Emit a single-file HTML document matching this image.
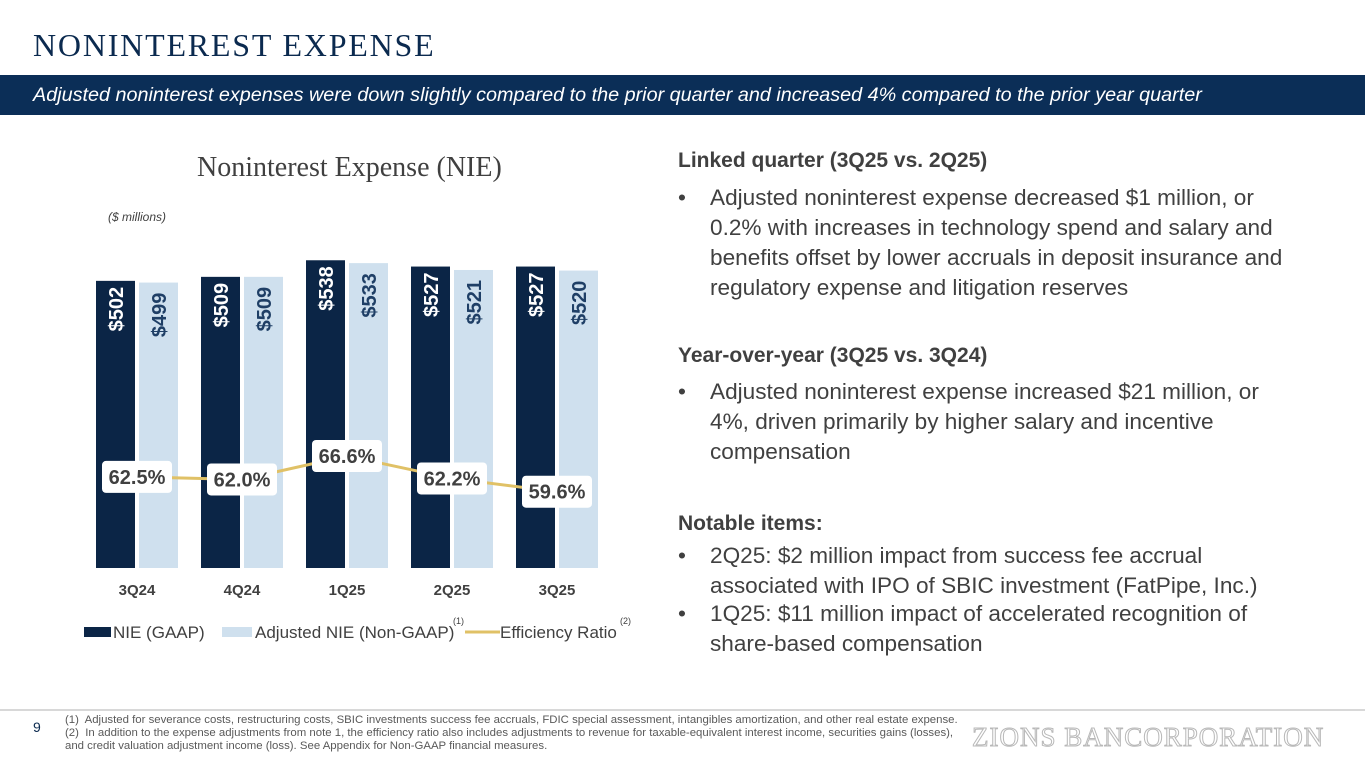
<!DOCTYPE html>
<html><head><meta charset="utf-8"><style>
*{margin:0;padding:0;box-sizing:border-box}
body{width:1365px;height:768px;background:#fff;position:relative;overflow:hidden;font-family:"Liberation Sans",sans-serif;color:#404040}
.abs{position:absolute}
.h{font-weight:bold;font-size:21px;color:#404040}
.b{font-size:22.6px;line-height:30px;padding-left:32px;position:absolute;width:617px}
.b:before{content:"•";position:absolute;left:0;top:0}
</style></head><body>
<div class="abs" style="left:33px;top:27px;font-family:'Liberation Serif',serif;font-size:32px;letter-spacing:1.8px;color:#0b2a4f">NONINTEREST EXPENSE</div>
<div class="abs" style="left:0;top:75px;width:1365px;height:40px;background:#0b2e57;color:#fff;font-style:italic;font-size:19.8px;line-height:40px;padding-left:33px">Adjusted noninterest expenses were down slightly compared to the prior quarter and increased 4% compared to the prior year quarter</div>
<div class="abs" style="left:197px;top:152px;font-family:'Liberation Serif',serif;font-size:28px;color:#404040">Noninterest Expense (NIE)</div>
<div class="abs" style="left:108px;top:210px;font-size:12px;font-style:italic;color:#404040">($ millions)</div>
<svg class="abs" style="left:0;top:0" width="680" height="700" id="chart"></svg>
<div class="abs h" style="left:678px;top:149px">Linked quarter (3Q25 vs. 2Q25)</div>
<div class="b" style="left:678px;top:183px">Adjusted noninterest expense decreased $1 million, or 0.2% with increases in technology spend and salary and benefits offset by lower accruals in deposit insurance and regulatory expense and litigation reserves</div>
<div class="abs h" style="left:678px;top:344px">Year-over-year (3Q25 vs. 3Q24)</div>
<div class="b" style="left:678px;top:377px">Adjusted noninterest expense increased $21 million, or 4%, driven primarily by higher salary and incentive compensation</div>
<div class="abs h" style="left:678px;top:512px">Notable items:</div>
<div class="b" style="left:678px;top:541px">2Q25: $2 million impact from success fee accrual associated with IPO of SBIC investment (FatPipe, Inc.)</div>
<div class="b" style="left:678px;top:599px">1Q25: $11 million impact of accelerated recognition of share-based compensation</div>
<div class="abs" style="left:0;top:709px;width:1365px;height:2px;background:#d8d8d8"></div>
<div class="abs" style="left:33px;top:719px;font-size:14px;color:#0b2a4f">9</div>
<div class="abs" style="left:65px;top:714px;font-size:11.4px;line-height:12.8px;color:#595959;width:940px">(1)&nbsp; Adjusted for severance costs, restructuring costs, SBIC investments success fee accruals, FDIC special assessment, intangibles amortization, and other real estate expense.<br>(2)&nbsp; In addition to the expense adjustments from note 1, the efficiency ratio also includes adjustments to revenue for taxable-equivalent interest income, securities gains (losses),<br>and credit valuation adjustment income (loss). See Appendix for Non-GAAP financial measures.</div>
<div class="abs" style="left:972px;top:722px;font-family:'Liberation Serif',serif;font-size:27px;color:#fff;-webkit-text-stroke:1px #b8b8b8;letter-spacing:1px">ZIONS BANCORPORATION</div>
<script>
const categories=["3Q24","4Q24","1Q25","2Q25","3Q25"];
const gaapValues=[502,509,538,527,527];
const adjValues=[499,509,533,521,520];
const effRatio=[62.5,62.0,66.6,62.2,59.6];
const svg=document.getElementById('chart');
const NS="http://www.w3.org/2000/svg";
const base=568;
const xC=i=>137+i*105;
const yB=v=>base-v*0.572;
const yE=v=>456+(66.6-v)*5.1;
function mk(t,a,p){const e=document.createElementNS(NS,t);for(const k in a)e.setAttribute(k,a[k]);(p||svg).appendChild(e);return e;}
categories.forEach((c,i)=>{
  const cx=xC(i);
  const g=mk('rect',{x:cx-41,y:yB(gaapValues[i]),width:39,height:base-yB(gaapValues[i]),fill:'#0b2546'});
  
  
  const a=mk('rect',{x:cx+2,y:yB(adjValues[i]),width:39,height:base-yB(adjValues[i]),fill:'#cfe0ee'});
  
  
  const t1=mk('text',{x:0,y:0,transform:`translate(${cx-14},${yB(gaapValues[i])+6}) rotate(-90)`,'text-anchor':'end','font-size':20,'font-weight':'bold',fill:'#fff'});
  t1.textContent='$'+gaapValues[i];
  
  
  const t2=mk('text',{x:0,y:0,transform:`translate(${cx+29},${yB(adjValues[i])+10}) rotate(-90)`,'text-anchor':'end','font-size':20,'font-weight':'bold',fill:'#1f3f66'});
  t2.textContent='$'+adjValues[i];
  
  
  const xl=mk('text',{x:cx,y:595,'text-anchor':'middle','font-size':15,'font-weight':'bold',fill:'#404040'});
  xl.textContent=c;
  
  
});
const pts=effRatio.map((v,i)=>xC(i)+','+yE(v)).join(' ');
const ln=mk('polyline',{points:pts,fill:'none',stroke:'#e0c166','stroke-width':3});


effRatio.forEach((v,i)=>{
  const r=mk('rect',{x:xC(i)-35,y:yE(v)-16,width:70,height:32,rx:4,fill:'#fff'});
  
  
  const t=mk('text',{x:xC(i),y:yE(v)+7,'text-anchor':'middle','font-size':20,'font-weight':'bold',fill:'#404040'});
  t.textContent=v.toFixed(1)+'%';
  
  
});
const lg=mk('g',{});


mk('rect',{x:84,y:627,width:27,height:10,fill:'#0b2546'},lg);
let t=mk('text',{x:113,y:638,'font-size':17,fill:'#404040'},lg);t.textContent='NIE (GAAP)';
mk('rect',{x:222,y:627,width:30,height:10,fill:'#cfe0ee'},lg);
t=mk('text',{x:255,y:638,'font-size':17,fill:'#404040'},lg);t.textContent='Adjusted NIE (Non-GAAP)';
t=mk('text',{x:453,y:624,'font-size':9,fill:'#404040'},lg);t.textContent='(1)';
mk('line',{x1:465,y1:632,x2:500,y2:632,stroke:'#e0c166','stroke-width':3},lg);
t=mk('text',{x:500,y:638,'font-size':17,fill:'#404040'},lg);t.textContent='Efficiency Ratio';
t=mk('text',{x:620,y:624,'font-size':9,fill:'#404040'},lg);t.textContent='(2)';
</script>
</body></html>
